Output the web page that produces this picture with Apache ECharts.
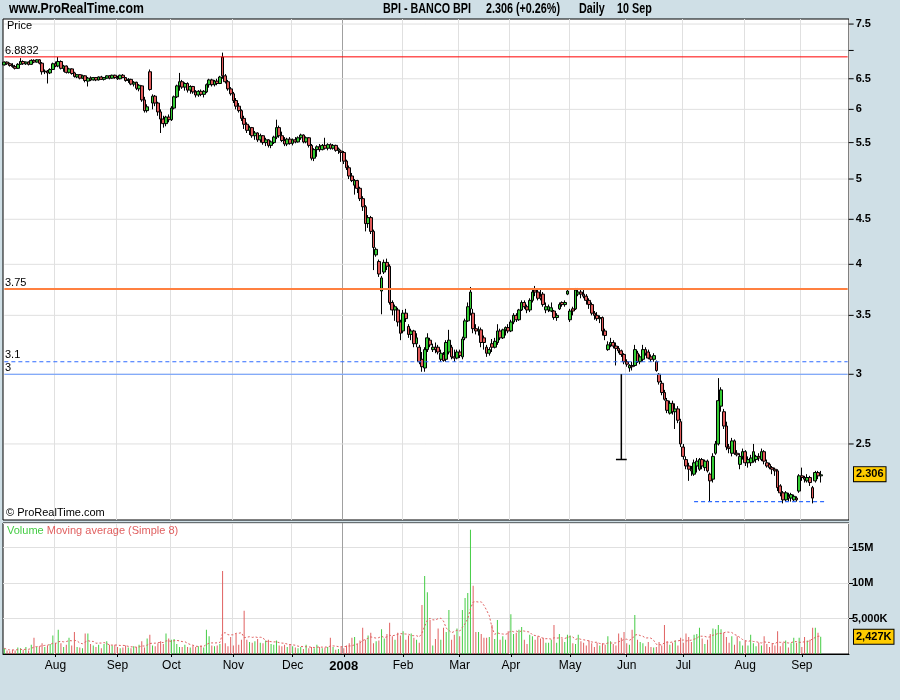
<!DOCTYPE html>
<html><head><meta charset="utf-8">
<script src="https://cdn.jsdelivr.net/npm/echarts@6/dist/echarts.min.js"></script>
<style>html,body{margin:0;padding:0;background:#CFDFE6}#c{width:900px;height:700px}</style>
</head><body><div id="c"></div>
<script>
// ---------- data ----------
const firstTradingDay = '2007-07-05';
const holidays = ['2007-12-25','2007-12-26','2008-01-01','2008-03-21','2008-03-24','2008-05-01'];
const emptySlotsAfter = 10;
const monthNames = ['Jan','Feb','Mar','Apr','May','Jun','Jul','Aug','Sep','Oct','Nov','Dec'];
const priceTicks = [2.5, 3, 3.5, 4, 4.5, 5, 5.5, 6, 6.5, 7, 7.5];
const priceTickLabels = ['2.5','3','3.5','4','4.5','5','5.5','6','6.5','','7.5'];
const volumeTickLabels = {5: '5,000K', 10: '10M', 15: '15M'};
// horizontal level lines drawn on the price panel
const levelValues = [6.8832, 3.75, 3.1, 3];
const levelLabels = ['6.8832', '3.75', '3.1', '3'];
const levelColors = ['#FF0000', '#FF8040', '#2F6BFF', '#6699FF'];
const levelWidths = [1, 2, 1.2, 1];
const levelDashed = [false, false, true, false];
const supportLow = 2.15, supportFrom = 256, supportTo = 305;
const badTickIdx = 229, badTickTop = 3.0, badTickLow = 2.40;

// daily candles: [open, high, low, close]
const ohlc = [
[6.74,6.80,6.73,6.79],[6.79,6.80,6.74,6.76],[6.76,6.78,6.71,6.73],[6.73,6.77,6.69,6.71],[6.71,6.74,6.66,6.68],
[6.68,6.77,6.67,6.75],[6.75,6.86,6.74,6.80],[6.80,6.82,6.74,6.76],[6.76,6.80,6.74,6.79],[6.79,6.80,6.73,6.75],
[6.75,6.84,6.74,6.82],[6.82,6.84,6.77,6.79],[6.79,6.84,6.78,6.83],[6.83,6.84,6.75,6.77],[6.77,6.79,6.57,6.62],
[6.62,6.66,6.58,6.63],[6.63,6.65,6.42,6.60],[6.60,6.68,6.58,6.66],[6.66,6.78,6.65,6.76],[6.76,6.80,6.70,6.72],
[6.72,6.88,6.70,6.80],[6.80,6.82,6.66,6.68],[6.68,6.74,6.62,6.72],[6.72,6.73,6.59,6.61],[6.61,6.69,6.59,6.67],
[6.67,6.68,6.57,6.59],[6.60,6.62,6.52,6.54],[6.53,6.58,6.51,6.57],[6.57,6.58,6.49,6.51],[6.51,6.57,6.50,6.55],
[6.55,6.56,6.44,6.47],[6.46,6.53,6.37,6.51],[6.51,6.54,6.46,6.48],[6.48,6.53,6.47,6.52],[6.52,6.53,6.46,6.48],
[6.48,6.54,6.47,6.53],[6.53,6.55,6.48,6.49],[6.49,6.53,6.47,6.52],[6.51,6.56,6.50,6.55],[6.55,6.56,6.49,6.51],
[6.51,6.57,6.50,6.56],[6.56,6.57,6.50,6.52],[6.52,6.55,6.48,6.50],[6.50,6.57,6.49,6.56],[6.56,6.58,6.51,6.52],
[6.52,6.53,6.45,6.47],[6.47,6.51,6.43,6.49],[6.49,6.50,6.39,6.41],[6.41,6.46,6.37,6.44],[6.44,6.45,6.31,6.34],
[6.33,6.41,6.29,6.39],[6.38,6.39,6.12,6.15],[6.15,6.20,5.95,5.98],[5.98,6.08,5.95,6.04],[6.62,6.66,6.30,6.32],
[6.10,6.24,6.00,6.21],[6.21,6.23,6.05,6.10],[6.10,6.12,5.90,5.96],[5.96,6.00,5.64,5.85],[5.85,5.90,5.72,5.78],
[5.78,5.90,5.74,5.88],[5.88,5.92,5.80,5.84],[5.84,6.05,5.82,6.02],[6.02,6.22,6.00,6.20],[6.20,6.40,6.18,6.38],
[6.38,6.60,6.30,6.45],[6.45,6.48,6.33,6.36],[6.36,6.44,6.30,6.42],[6.42,6.44,6.27,6.31],[6.31,6.39,6.25,6.37],
[6.37,6.38,6.25,6.28],[6.28,6.31,6.19,6.23],[6.23,6.31,6.20,6.29],[6.29,6.32,6.21,6.24],[6.24,6.31,6.19,6.29],
[6.28,6.42,6.26,6.40],[6.40,6.50,6.35,6.48],[6.48,6.50,6.37,6.40],[6.40,6.48,6.37,6.46],[6.46,6.50,6.39,6.42],
[6.42,6.55,6.41,6.53],[6.88,6.96,6.50,6.55],[6.55,6.58,6.42,6.45],[6.45,6.48,6.30,6.33],[6.33,6.36,6.22,6.25],
[6.25,6.28,6.10,6.14],[6.14,6.18,6.00,6.05],[6.05,6.10,5.95,5.98],[5.98,6.00,5.82,5.86],[5.86,5.90,5.70,5.77],
[5.77,5.80,5.64,5.68],[5.68,5.75,5.61,5.72],[5.72,5.73,5.57,5.60],[5.60,5.67,5.54,5.64],[5.64,5.65,5.51,5.54],
[5.54,5.63,5.50,5.60],[5.60,5.61,5.47,5.50],[5.50,5.57,5.45,5.54],[5.54,5.55,5.43,5.46],[5.46,5.53,5.42,5.51],
[5.50,5.60,5.48,5.58],[5.58,5.84,5.55,5.72],[5.72,5.75,5.57,5.60],[5.60,5.66,5.51,5.53],[5.53,5.58,5.45,5.48],
[5.48,5.57,5.45,5.55],[5.55,5.58,5.47,5.49],[5.49,5.56,5.46,5.54],[5.54,5.58,5.49,5.51],[5.51,5.59,5.50,5.57],
[5.57,5.63,5.54,5.61],[5.61,5.62,5.49,5.51],[5.51,5.59,5.49,5.57],[5.57,5.58,5.43,5.46],[5.46,5.48,5.25,5.28],
[5.28,5.42,5.24,5.40],[5.40,5.46,5.30,5.44],[5.44,5.48,5.37,5.40],[5.40,5.48,5.39,5.46],[5.46,5.57,5.40,5.42],
[5.42,5.49,5.39,5.47],[5.47,5.49,5.40,5.42],[5.42,5.48,5.40,5.46],[5.46,5.47,5.37,5.39],[5.39,5.43,5.34,5.41],
[5.38,5.40,5.23,5.36],[5.36,5.38,5.20,5.24],[5.24,5.26,5.12,5.15],[5.15,5.18,5.00,5.04],[5.04,5.08,4.96,4.98],
[4.92,5.00,4.80,4.98],[4.98,4.99,4.82,4.88],[4.88,4.90,4.72,4.75],[4.75,4.78,4.60,4.65],[4.65,4.67,4.36,4.45],
[4.45,4.55,4.40,4.52],[4.52,4.54,4.33,4.36],[4.36,4.38,3.94,4.18],[4.10,4.18,4.08,4.16],[4.03,4.05,3.87,3.90],
[3.73,3.88,3.51,3.86],[3.92,4.05,3.90,4.02],[4.02,4.06,3.94,3.98],[3.98,4.00,3.60,3.62],[3.62,3.64,3.50,3.55],
[3.55,3.60,3.45,3.58],[3.55,3.57,3.40,3.44],[3.44,3.46,3.28,3.34],[3.36,3.55,3.34,3.52],[3.52,3.56,3.44,3.47],
[3.40,3.42,3.30,3.33],[3.33,3.38,3.28,3.36],[3.36,3.37,3.22,3.25],[3.25,3.34,3.22,3.30],[3.22,3.24,3.08,3.10],
[3.12,3.18,3.02,3.06],[3.05,3.22,3.02,3.20],[3.20,3.34,3.18,3.30],[3.28,3.30,3.22,3.24],[3.20,3.25,3.18,3.22],
[3.22,3.26,3.17,3.20],[3.22,3.24,3.16,3.18],[3.12,3.20,3.10,3.17],[3.16,3.18,3.10,3.11],[3.12,3.28,3.10,3.26],
[3.18,3.37,3.16,3.28],[3.22,3.24,3.12,3.14],[3.14,3.20,3.10,3.13],[3.13,3.20,3.12,3.18],[3.18,3.20,3.13,3.15],
[3.14,3.31,3.12,3.29],[3.30,3.47,3.28,3.45],[3.45,3.62,3.44,3.58],[3.56,3.77,3.50,3.72],[3.52,3.56,3.34,3.38],
[3.38,3.42,3.33,3.36],[3.36,3.40,3.32,3.37],[3.37,3.39,3.22,3.26],[3.30,3.32,3.20,3.26],[3.22,3.24,3.14,3.17],
[3.17,3.22,3.15,3.20],[3.25,3.29,3.18,3.22],[3.22,3.30,3.21,3.27],[3.26,3.42,3.24,3.36],[3.36,3.38,3.28,3.30],
[3.30,3.38,3.29,3.37],[3.37,3.40,3.32,3.39],[3.39,3.42,3.34,3.36],[3.36,3.46,3.35,3.44],[3.44,3.52,3.42,3.50],
[3.50,3.52,3.44,3.46],[3.46,3.56,3.45,3.55],[3.55,3.64,3.54,3.62],[3.62,3.64,3.56,3.58],[3.58,3.60,3.52,3.55],
[3.55,3.66,3.53,3.64],[3.64,3.76,3.62,3.72],[3.74,3.78,3.68,3.72],[3.72,3.74,3.64,3.66],[3.68,3.75,3.64,3.66],
[3.70,3.72,3.58,3.60],[3.55,3.62,3.52,3.58],[3.55,3.60,3.53,3.58],[3.54,3.62,3.53,3.57],[3.54,3.55,3.46,3.48],
[3.48,3.52,3.45,3.50],[3.56,3.62,3.55,3.60],[3.62,3.63,3.58,3.60],[3.60,3.64,3.58,3.62],[3.70,3.75,3.69,3.73],
[3.46,3.56,3.44,3.54],[3.56,3.58,3.50,3.54],[3.56,3.76,3.55,3.74],[3.70,3.76,3.68,3.72],[3.72,3.74,3.66,3.70],
[3.70,3.74,3.66,3.68],[3.68,3.70,3.60,3.64],[3.64,3.66,3.56,3.60],[3.60,3.62,3.50,3.52],[3.52,3.54,3.46,3.50],
[3.50,3.53,3.45,3.47],[3.47,3.50,3.43,3.48],[3.48,3.49,3.32,3.36],[3.36,3.38,3.28,3.32],[3.20,3.27,3.19,3.24],
[3.24,3.30,3.22,3.26],[3.26,3.28,3.21,3.23],[3.23,3.26,3.07,3.21],[3.21,3.23,3.17,3.19],[3.19,3.20,3.14,3.16],
[3.16,3.17,3.08,3.10],[3.10,3.12,3.06,3.08],[3.05,3.08,3.02,3.07],[3.07,3.10,3.03,3.06],[3.07,3.24,3.06,3.20],
[3.17,3.19,3.09,3.10],[3.10,3.16,3.08,3.14],[3.12,3.24,3.10,3.20],[3.20,3.22,3.15,3.17],[3.18,3.20,3.12,3.13],
[3.14,3.16,3.10,3.12],[3.12,3.17,3.10,3.15],[3.10,3.11,3.02,3.03],[3.00,3.01,2.92,2.94],[2.93,2.95,2.84,2.86],
[2.86,2.88,2.80,2.81],[2.80,2.82,2.71,2.73],[2.71,2.80,2.70,2.78],[2.78,2.80,2.70,2.72],[2.72,2.78,2.60,2.74],
[2.74,2.76,2.64,2.66],[2.65,2.67,2.48,2.50],[2.48,2.50,2.40,2.42],[2.40,2.42,2.34,2.36],[2.36,2.38,2.27,2.34],
[2.34,2.36,2.30,2.33],[2.31,2.40,2.30,2.38],[2.36,2.41,2.32,2.39],[2.34,2.41,2.33,2.40],[2.40,2.41,2.34,2.36],
[2.35,2.40,2.33,2.39],[2.39,2.40,2.32,2.33],[2.31,2.32,2.15,2.27],[2.28,2.44,2.26,2.42],[2.44,2.52,2.43,2.50],
[2.50,2.97,2.49,2.80],[2.76,2.90,2.72,2.88],[2.72,2.74,2.60,2.62],[2.62,2.65,2.46,2.48],[2.48,2.50,2.44,2.47],
[2.44,2.54,2.42,2.52],[2.52,2.53,2.43,2.44],[2.44,2.46,2.42,2.43],[2.37,2.44,2.34,2.42],[2.42,2.47,2.40,2.45],
[2.45,2.46,2.36,2.38],[2.38,2.42,2.35,2.40],[2.38,2.43,2.36,2.41],[2.39,2.50,2.38,2.45],[2.40,2.43,2.38,2.42],
[2.42,2.44,2.39,2.41],[2.40,2.47,2.39,2.45],[2.45,2.46,2.37,2.39],[2.38,2.40,2.35,2.36],[2.37,2.38,2.34,2.35],
[2.35,2.36,2.31,2.34],[2.34,2.35,2.30,2.33],[2.33,2.34,2.21,2.23],[2.24,2.25,2.18,2.20],[2.20,2.21,2.14,2.16],
[2.16,2.21,2.15,2.20],[2.18,2.20,2.15,2.17],[2.17,2.20,2.15,2.19],[2.16,2.19,2.15,2.18],[2.17,2.18,2.15,2.16],
[2.21,2.31,2.20,2.30],[2.30,2.35,2.27,2.29],[2.29,2.30,2.26,2.28],[2.27,2.31,2.26,2.29],[2.29,2.30,2.24,2.26],
[2.23,2.24,2.14,2.17],[2.27,2.33,2.26,2.32],[2.32,2.33,2.28,2.30],[2.30,2.33,2.26,2.306]
];

// daily volume, millions of shares
const volume = [
0.8,0.5,0.4,0.6,0.5,0.9,0.8,0.6,1.0,0.5,
1.3,2.3,1.0,1.1,1.5,1.0,1.2,1.4,2.6,1.6,
3.4,1.5,1.0,1.3,2.3,1.2,3.1,1.0,0.9,0.8,
2.9,2.9,1.4,1.2,1.0,1.3,0.8,1.4,1.8,1.3,
1.2,1.3,1.0,0.8,0.9,1.2,0.9,0.8,1.1,1.0,
1.3,1.8,0.9,2.2,2.7,1.2,1.1,1.5,1.8,1.4,
2.9,2.2,2.0,2.1,1.4,1.0,1.0,1.3,1.0,0.9,
1.2,1.0,1.1,1.2,0.9,3.4,2.5,1.2,1.1,1.2,
1.4,11.7,1.5,1.1,2.4,1.2,2.8,1.3,2.0,6.1,
2.0,1.7,1.6,1.8,2.1,1.6,1.5,1.9,2.0,1.4,
1.3,1.9,1.2,1.1,1.3,1.0,1.4,1.1,0.9,0.8,
1.0,0.7,1.3,0.8,1.0,0.8,1.3,1.0,0.8,0.9,
1.0,2.3,1.0,0.6,0.7,1.0,0.8,1.2,1.5,2.3,
2.4,1.4,1.9,3.7,2.0,2.6,3.0,1.5,1.8,1.9,
3.5,2.2,2.8,4.4,2.5,2.0,3.0,2.6,3.2,2.0,
2.6,2.9,2.3,2.0,1.6,6.9,11.0,8.7,4.8,1.2,
2.1,3.6,2.0,3.7,3.1,6.2,2.0,2.7,3.6,2.5,
6.2,7.9,8.6,17.5,9.6,3.1,3.1,2.8,2.3,2.3,
2.4,4.1,2.1,4.8,2.0,2.5,2.0,3.2,5.6,2.8,
3.0,3.4,3.8,2.0,1.4,2.7,2.5,2.0,2.5,2.2,
2.3,1.6,1.6,2.0,4.1,1.6,2.8,2.1,1.7,2.7,
2.6,1.5,1.4,2.7,1.8,1.6,1.2,1.9,1.5,1.0,
1.6,1.2,1.5,1.3,2.5,1.8,1.4,1.2,2.9,2.3,
3.1,1.5,1.3,3.4,5.5,2.0,1.7,1.5,1.1,1.7,
1.0,0.9,1.0,1.7,1.2,4.1,1.8,1.3,1.6,1.9,
1.2,2.3,1.6,2.9,2.4,1.7,2.7,2.8,3.7,2.2,
1.4,2.0,2.8,3.6,3.5,4.1,3.5,3.0,2.4,1.6,
2.5,1.3,2.5,1.8,1.2,1.9,1.2,2.7,1.5,1.1,
1.6,1.2,2.5,1.4,1.0,1.5,1.2,3.2,1.1,1.6,
1.9,0.9,1.5,2.3,1.6,2.3,1.0,2.4,1.9,2.0,
3.7,3.7,3.0,2.427
];
const maPeriod = 8;

// ---------- derived ----------
function buildDays(start, count) {
  const out = []; const d = new Date(start + 'T00:00:00Z');
  while (out.length < count) {
    const wd = d.getUTCDay(); const s = d.toISOString().slice(0, 10);
    if (wd !== 0 && wd !== 6 && holidays.indexOf(s) < 0) out.push(s);
    d.setUTCDate(d.getUTCDate() + 1);
  }
  return out;
}
const days = buildDays(firstTradingDay, ohlc.length + emptySlotsAfter);
const N = days.length;
const monthStart = new Set();
for (let i = 1; i < N; i++) if (days[i].slice(5, 7) !== days[i - 1].slice(5, 7)) monthStart.add(i);
const isMonthStart = (idx) => monthStart.has(idx);
const monthStartList = Array.from(monthStart);
const splitColors = monthStartList.map(i => days[i].slice(5, 7) === '01' ? '#A0A0A0' : '#E0E0E0');
splitColors.push('#E0E0E0');

const candleData = ohlc.map(r => [r[0], r[3], r[2], r[1]]);
const isUp = ohlc.map(r => r[3] >= r[0]);
const volData = volume.map((v, i) => ({ value: v, itemStyle: { color: isUp[i] ? '#44CC44' : '#E06060' } }));
const maData = volume.map((v, i) => {
  const s = Math.max(0, i - maPeriod + 1); let sum = 0;
  for (let k = s; k <= i; k++) sum += volume[k];
  return +(sum / (i - s + 1)).toFixed(3);
});
const lastClose = ohlc[ohlc.length - 1][3];
const prevClose = ohlc[ohlc.length - 2][3];
const pct = ((lastClose / prevClose - 1) * 100).toFixed(2);
const lastVol = volume[volume.length - 1];
const lastDay = days[ohlc.length - 1];
const lastDayLabel = parseInt(lastDay.slice(8, 10), 10) + ' ' + monthNames[parseInt(lastDay.slice(5, 7), 10) - 1];
const lastVolLabel = Math.round(lastVol * 1000).toLocaleString('en-US') + 'K';

const FONT = '"Liberation Sans", Arial, sans-serif';
const HIDDEN_LINE = { color: 'rgba(0,0,0,0)', width: 1 };

const gridSeries = priceTicks.map((v, k) => ({
  type: 'line', xAxisIndex: 0, yAxisIndex: 0, z: 1, silent: true, clip: false,
  symbol: 'none', animation: false,
  data: [[0, v], [N - 1, v]],
  lineStyle: { color: '#E0E0E0', width: 1 },
  endLabel: {
    show: true, distance: 1,
    formatter: priceTickLabels[k] ? '{t| }{v|' + priceTickLabels[k] + '}' : '{t| }',
    rich: {
      t: { width: 5, height: 1, backgroundColor: '#000' },
      v: { fontFamily: FONT, fontWeight: 'bold', fontSize: 11, color: '#000', padding: [0, 0, 0, 2] }
    }
  }
}));

const levelSeries = levelValues.map((v, k) => ({
  type: 'line', xAxisIndex: 0, yAxisIndex: 0, z: 5, silent: true, symbol: 'none', animation: false,
  data: [[0, v], [N - 1, v]],
  lineStyle: { color: levelColors[k], width: levelWidths[k], type: levelDashed[k] ? [4, 3] : 'solid' },
  markLine: { symbol: 'none', silent: true, animation: false,
    data: [{ yAxis: v, lineStyle: HIDDEN_LINE,
      label: { show: true, position: 'insideStartTop', formatter: levelLabels[k], color: '#000', fontSize: 11, fontFamily: FONT, distance: [2, 1] } }] }
}));

const extraSeries = [
  { type: 'line', xAxisIndex: 0, yAxisIndex: 0, z: 5, silent: true, symbol: 'none', animation: false,
    data: [[supportFrom, supportLow], [supportTo, supportLow]], lineStyle: { color: '#2F6BFF', width: 1.2, type: [4, 3] } },
  { type: 'line', xAxisIndex: 0, yAxisIndex: 0, z: 5, silent: true, symbol: 'none', animation: false,
    data: [[badTickIdx, badTickTop], [badTickIdx, badTickLow]], lineStyle: { color: '#000', width: 1.5 } },
  { type: 'line', xAxisIndex: 0, yAxisIndex: 0, z: 5, silent: true, symbol: 'none', animation: false,
    data: [[badTickIdx - 2, badTickLow], [badTickIdx + 2, badTickLow]], lineStyle: { color: '#000', width: 1.5 } }
];

const boxLabel = (txt) => ({ show: true, position: 'end', distance: 5, formatter: txt, backgroundColor: '#FFCC00', borderColor: '#000', borderWidth: 1,
  padding: [2, 2, 1, 2], color: '#000', fontWeight: 'bold', fontSize: 11, fontFamily: FONT });

const option = {
  backgroundColor: '#CFDFE6',
  animation: false,
  textStyle: { fontFamily: FONT },
  grid: [
    { left: 3, right: 51, top: 19, height: 501, show: true, backgroundColor: '#fff', borderColor: '#000', borderWidth: 1 },
    { left: 3, right: 51, top: 523, height: 131, show: true, backgroundColor: '#fff', borderColor: '#000', borderWidth: 1 }
  ],
  xAxis: [
    { type: 'category', gridIndex: 0, data: days, boundaryGap: true,
      axisLine: { show: false }, axisTick: { show: false }, axisLabel: { show: false },
      splitLine: { show: true, interval: isMonthStart, lineStyle: { color: splitColors, width: 1 } } },
    { type: 'category', gridIndex: 1, data: days, boundaryGap: true,
      axisLine: { show: true, lineStyle: { color: '#000', width: 1 } },
      axisTick: { show: true, interval: isMonthStart, alignWithLabel: true, length: 3, lineStyle: { color: '#000' } },
      axisLabel: { show: true, interval: isMonthStart, margin: 6, color: '#000', fontSize: 12, fontFamily: FONT,
        formatter: (val) => { const m = parseInt(val.slice(5, 7), 10); return m === 1 ? '{b|' + val.slice(0, 4) + '}' : monthNames[m - 1]; },
        rich: { b: { fontWeight: 'bold', fontSize: 13, fontFamily: FONT, color: '#000' } } },
      splitLine: { show: true, interval: isMonthStart, lineStyle: { color: splitColors, width: 1 } } }
  ],
  yAxis: [
    { type: 'log', gridIndex: 0, min: 2.049, max: 7.6, position: 'right',
      axisLine: { show: false }, axisTick: { show: false }, axisLabel: { show: false }, splitLine: { show: false } },
    { type: 'value', gridIndex: 1, min: 0, max: 18.45, interval: 5, position: 'right',
      axisLine: { show: false },
      axisTick: { show: true, length: 4, lineStyle: { color: '#000' } },
      axisLabel: { formatter: (v) => volumeTickLabels[v] || '', fontWeight: 'bold', fontSize: 11, color: '#000', margin: 3, fontFamily: FONT, showMaxLabel: false, showMinLabel: false },
      splitLine: { show: true, lineStyle: { color: '#E0E0E0' } } }
  ],
  series: gridSeries.concat([
    { type: 'candlestick', name: 'BPI', xAxisIndex: 0, yAxisIndex: 0, z: 3, barWidth: 3.2,
      data: candleData,
      itemStyle: { color: '#33CC33', color0: '#E05A5A', borderColor: '#000', borderColor0: '#000', borderColorDoji: '#000', borderWidth: 1 },
      markLine: { symbol: 'none', silent: true, animation: false,
        data: [ { yAxis: lastClose, lineStyle: HIDDEN_LINE, label: boxLabel(lastClose.toFixed(3)) } ] }
    },
    { type: 'bar', name: 'Volume', xAxisIndex: 1, yAxisIndex: 1, z: 3, barWidth: 1, data: volData,
      markLine: { symbol: 'none', silent: true, animation: false,
        data: [ { yAxis: lastVol, lineStyle: HIDDEN_LINE, label: boxLabel(lastVolLabel) } ] } },
    { type: 'line', name: 'Moving average (Simple 8)', xAxisIndex: 1, yAxisIndex: 1, z: 4, symbol: 'none', silent: true,
      data: maData, lineStyle: { color: '#E06060', width: 1, type: [2, 2] } }
  ], levelSeries, extraSeries),
  graphic: [
    { type: 'text', x: 9, y: 2, scaleX: 0.875, style: { text: 'www.ProRealTime.com', font: 'bold 14px ' + FONT, fill: '#000' } },
    { type: 'text', x: 383, y: 2, scaleX: 0.77, style: { text: 'BPI - BANCO BPI', font: 'bold 14px ' + FONT, fill: '#000' } },
    { type: 'text', x: 486, y: 2, scaleX: 0.77, style: { text: lastClose.toFixed(3) + ' (+' + pct + '%)', font: 'bold 14px ' + FONT, fill: '#000' } },
    { type: 'text', x: 579, y: 2, scaleX: 0.77, style: { text: 'Daily', font: 'bold 14px ' + FONT, fill: '#000' } },
    { type: 'text', x: 617, y: 2, scaleX: 0.77, style: { text: lastDayLabel, font: 'bold 14px ' + FONT, fill: '#000' } },
    { type: 'text', x: 7, y: 20, z: 10, style: { text: 'Price', font: '11px ' + FONT, fill: '#000' } },
    { type: 'text', x: 6, y: 507, z: 10, style: { text: '\u00A9 ProRealTime.com', font: '11px ' + FONT, fill: '#000' } },
    { type: 'text', x: 7, y: 525, z: 10, style: { text: '{g|Volume} {r|Moving average (Simple 8)}', font: '11px ' + FONT,
      rich: { g: { fill: '#44CC44', font: '11px ' + FONT }, r: { fill: '#E06060', font: '11px ' + FONT } } } }
  ]
};

const chart = echarts.init(document.getElementById('c'), null, { renderer: 'canvas' });
chart.setOption(option);
</script>
</body></html>
